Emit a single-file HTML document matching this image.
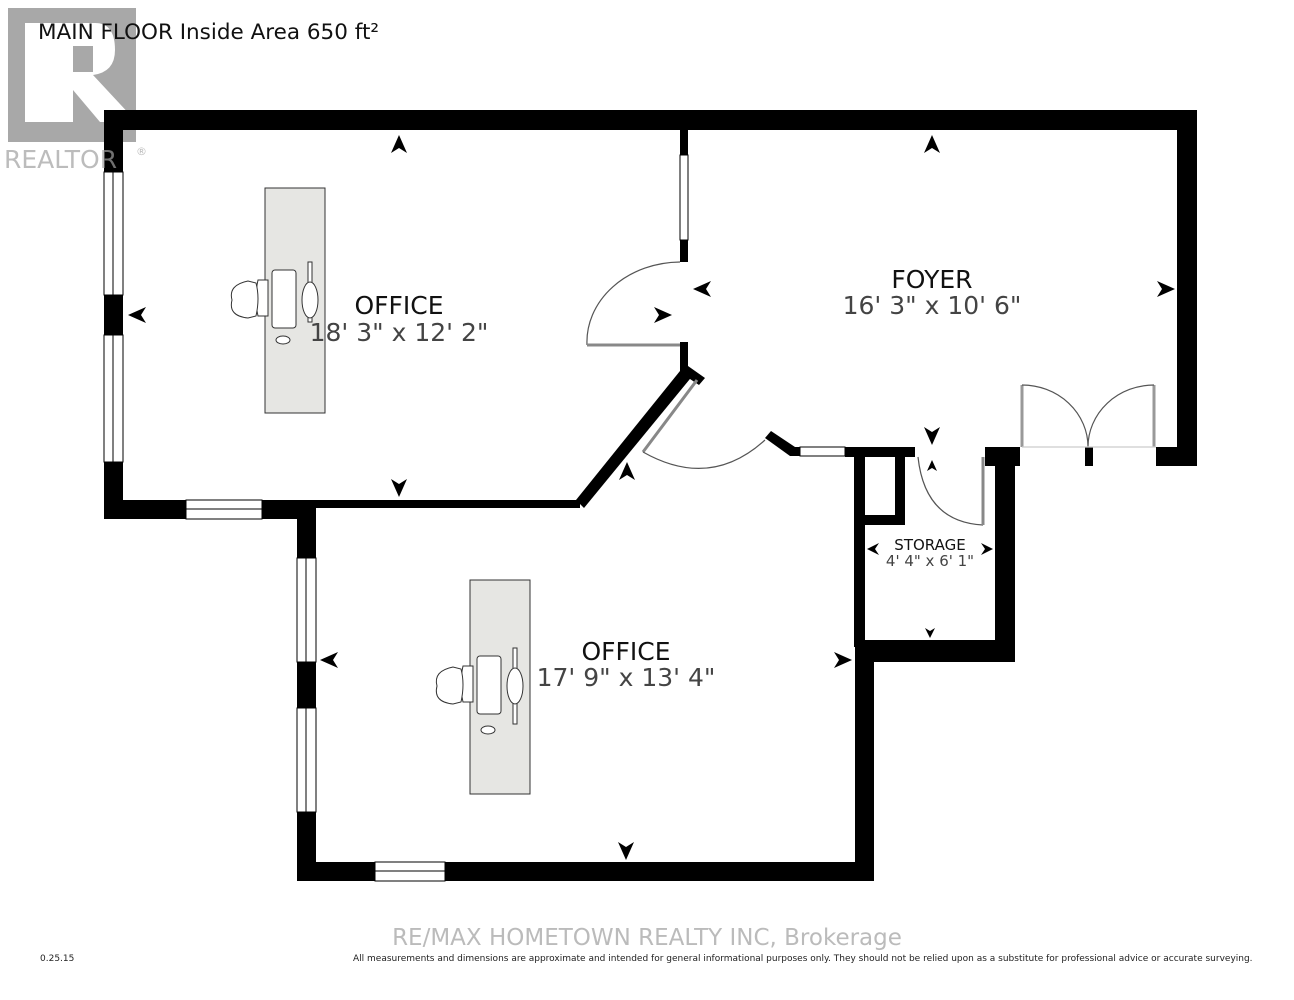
<!DOCTYPE html>
<html><head><meta charset="utf-8"><style>
html,body{margin:0;padding:0;background:#fff;}
svg{display:block;}
text{font-family:"DejaVu Sans","Liberation Sans",sans-serif;}
</style></head><body>
<svg width="1294" height="1000" viewBox="0 0 1294 1000" xmlns="http://www.w3.org/2000/svg">
<rect width="1294" height="1000" fill="#fff"/>
<g>
<rect x="8" y="8" width="128" height="134" fill="#a8a8a8"/>
<path d="M25 23 H95 Q115 23 115 50 Q115 72 93 75 L133 118 V122 H100 L73 90 V122 H25 Z" fill="#fff"/>
<rect x="73" y="46" width="20" height="26" fill="#a8a8a8"/>
</g>
<g fill="#000">
<rect x="104" y="110" width="1093" height="20"/>
<rect x="1177" y="110" width="20" height="356"/>
<rect x="1156" y="447" width="41" height="19"/>
<rect x="104" y="110" width="19" height="62"/>
<rect x="104" y="295" width="19" height="40"/>
<rect x="104" y="462" width="19" height="57"/>
<rect x="104" y="500" width="82" height="19"/>
<rect x="262" y="500" width="54" height="19"/>
<rect x="297" y="500" width="283" height="8"/>
<polygon points="576,500 684,366 694,374 584,508"/>
<polygon points="680,366 688,366 705,378 699,385 684,375"/>
<rect x="680" y="130" width="8" height="25"/>
<rect x="680" y="240" width="8" height="22"/>
<rect x="680" y="342" width="8" height="30"/>
<rect x="297" y="500" width="19" height="58"/>
<rect x="297" y="662" width="19" height="46"/>
<rect x="297" y="812" width="19" height="69"/>
<rect x="297" y="862" width="78" height="19"/>
<rect x="445" y="862" width="429" height="19"/>
<rect x="855" y="640" width="19" height="241"/>
<rect x="854" y="447" width="11" height="200"/>
<polygon points="765,438 771,431 795,447 798,456 790,456"/>
<rect x="790" y="447" width="10" height="9"/>
<rect x="845" y="447" width="70" height="10"/>
<rect x="895" y="447" width="10" height="78"/>
<rect x="864" y="515" width="41" height="10"/>
<rect x="855" y="640" width="160" height="22"/>
<rect x="995" y="447" width="20" height="215"/>
<rect x="985" y="447" width="35" height="19"/>
<rect x="1085" y="447" width="8" height="19"/>
</g>
<g fill="#fff" stroke="#000" stroke-width="1">
<rect x="104" y="172" width="19" height="123"/><line x1="113" y1="172" x2="113" y2="295"/>
<rect x="104" y="335" width="19" height="127"/><line x1="113" y1="335" x2="113" y2="462"/>
<rect x="186" y="500" width="76" height="19"/><line x1="186" y1="509" x2="262" y2="509"/>
<rect x="680" y="155" width="8" height="85"/>
<rect x="297" y="558" width="19" height="104"/><line x1="306" y1="558" x2="306" y2="662"/>
<rect x="297" y="708" width="19" height="104"/><line x1="306" y1="708" x2="306" y2="812"/>
<rect x="375" y="862" width="70" height="19"/><line x1="375" y1="871" x2="445" y2="871"/>
<rect x="800" y="447" width="45" height="9"/>
</g>
<g fill="none" stroke="#555" stroke-width="1.2">
<path d="M680 262 A94 80 0 0 0 587 345"/>
<path d="M587 345 H680" stroke-width="3" stroke="#888"/>
<path d="M697 380 L643 452" stroke-width="3" stroke="#888"/>
<path d="M643 452 Q710 490 765 440"/>
<path d="M918 457 Q925 522 983 525"/>
<path d="M983 457 V525" stroke-width="3" stroke="#888"/>
<path d="M1022 385 V447 M1154 385 V447" stroke-width="3" stroke="#999"/>
<path d="M1022 385 A66 62 0 0 1 1088 447 M1154 385 A66 62 0 0 0 1088 447"/>
<line x1="1022" y1="447" x2="1156" y2="447" stroke="#ccc"/>
</g>
<g stroke="#333" stroke-width="1" fill="#e6e6e3">
<rect x="265" y="188" width="60" height="225"/>
<rect x="470" y="580" width="60" height="214"/>
</g>
<g stroke="#333" stroke-width="1" fill="#fff">
<rect x="272" y="270" width="24" height="58" rx="3"/>
<path d="M258 280 Q254 298 258 316 L268 316 L268 280 Z"/>
<path d="M248 281 Q228 285 232 300 Q228 316 248 318 L256 316 Q260 298 256 283 Z"/>
<rect x="308" y="262" width="4" height="60"/>
<ellipse cx="310" cy="300" rx="8" ry="18"/>
<ellipse cx="283" cy="340" rx="7" ry="4"/>
<rect x="477" y="656" width="24" height="58" rx="3"/>
<path d="M463 666 Q459 684 463 702 L473 702 L473 666 Z"/>
<path d="M453 667 Q433 671 437 686 Q433 702 453 704 L461 702 Q465 684 461 669 Z"/>
<rect x="513" y="648" width="4" height="76"/>
<ellipse cx="515" cy="686" rx="8" ry="18"/>
<ellipse cx="488" cy="730" rx="7" ry="4"/>
</g>
<g fill="#000">
<path d="M399 135 l-8 18 l8 -5 l8 5z"/>
<path d="M932 135 l-8 18 l8 -5 l8 5z"/>
<path d="M128 315 l18 -8 l-5 8 l5 8z"/>
<path d="M399 497 l-8 -18 l8 5 l8 -5z"/>
<path d="M672 315 l-18 -8 l5 8 l-5 8z"/>
<path d="M693 289 l18 -8 l-5 8 l5 8z"/>
<path d="M1175 289 l-18 -8 l5 8 l-5 8z"/>
<path d="M932 445 l-8 -18 l8 5 l8 -5z"/>
<path d="M932 460 l-5 11 l5 -3 l5 3z"/>
<path d="M627 462 l-8 18 l8 -5 l8 5z"/>
<path d="M320 660 l18 -8 l-5 8 l5 8z"/>
<path d="M852 660 l-18 -8 l5 8 l-5 8z"/>
<path d="M626 860 l-8 -18 l8 5 l8 -5z"/>
<path d="M867 549 l12 -6 l-4 6 l4 6z"/>
<path d="M993 549 l-12 -6 l4 6 l-4 6z"/>
<path d="M930 638 l-5 -10 l5 3 l5 -3z"/>
</g>
<g opacity="0.7">
<text x="4" y="168" font-size="25" fill="#a0a0a0">REALTOR</text>
<text x="136" y="155" font-size="11" fill="#a0a0a0">®</text>
</g>
<text x="38" y="39" font-size="21.5" fill="#111">MAIN FLOOR Inside Area 650 ft²</text>
<g text-anchor="middle">
<text x="399" y="314" font-size="25" fill="#111">OFFICE</text>
<text x="399" y="341" font-size="25" fill="#444">18' 3" x 12' 2"</text>
<text x="932" y="288" font-size="25" fill="#111">FOYER</text>
<text x="932" y="314" font-size="25" fill="#444">16' 3" x 10' 6"</text>
<text x="626" y="660" font-size="25" fill="#111">OFFICE</text>
<text x="626" y="686" font-size="25" fill="#444">17' 9" x 13' 4"</text>
<text x="930" y="550" font-size="15" fill="#111">STORAGE</text>
<text x="930" y="566" font-size="15" fill="#444">4' 4" x 6' 1"</text>
<text x="647" y="945" font-size="23" fill="#bbb">RE/MAX HOMETOWN REALTY INC, Brokerage</text>
</g>
<text x="40" y="961" font-size="9" fill="#222">0.25.15</text>
<text x="353" y="961" font-size="9" fill="#222">All measurements and dimensions are approximate and intended for general informational purposes only. They should not be relied upon as a substitute for professional advice or accurate surveying.</text>
</svg>
</body></html>
